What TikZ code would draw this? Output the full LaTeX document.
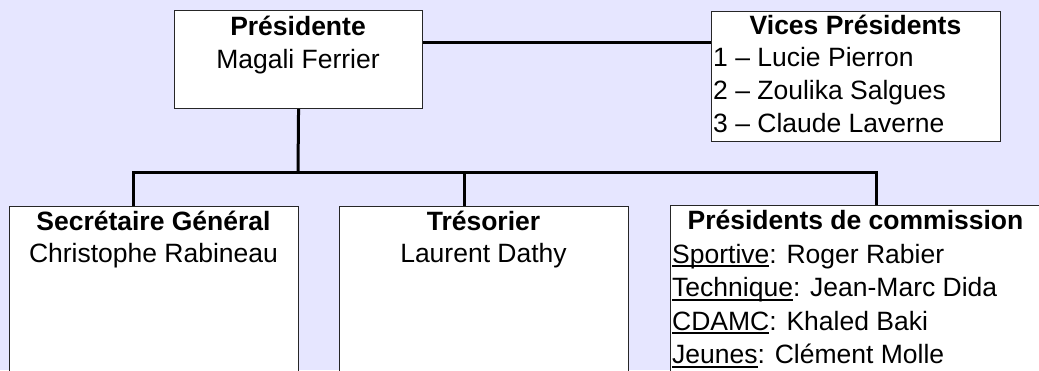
\documentclass[tikz,border=0pt]{standalone}
\usepackage{fontspec}
\setmainfont{Liberation Sans}
\definecolor{bgc}{HTML}{E6E6FF}
\newcommand\ulword[1]{\setbox0\hbox{#1}\rlap{\rule[-4pt]{\wd0}{1.8pt}}\box0}
\tikzset{
  orgbox/.style={draw=black!85, line width=1.1pt, fill=white, anchor=north west, inner sep=0pt, minimum width=#1},
  txt/.style={anchor=base, inner sep=0pt, font=\fontsize{26.5}{33}\selectfont},
  ttl/.style={txt, font=\fontsize{26.5}{33}\selectfont\bfseries},
  ltxt/.style={txt, anchor=base west},
  conn/.style={draw=black, line width=3pt}
}
\begin{document}
\begin{tikzpicture}[x=1pt,y=-1pt]
\useasboundingbox (0,0) rectangle (1039,370);
\clip (0,0) rectangle (1039,370);
\fill[bgc] (0,0) rectangle (1039,370);
% boxes
\node[orgbox=248pt, minimum height=98pt] (P) at (174,10) {};
\node[orgbox=289pt, minimum height=130pt] (V) at (711,11) {};
\node[orgbox=289pt, minimum height=220pt] (S) at (9,206) {};
\node[orgbox=289pt, minimum height=220pt] (T) at (339,206) {};
\node[orgbox=372pt, minimum height=220pt] (C) at (670,205) {};
% connectors
\coordinate (jP) at (298,172);
\coordinate (jS) at (133,172);
\coordinate (jT) at (464,172);
\coordinate (jC) at (876,172);
\draw[conn] ([yshift=-32pt]P.north east) -- ([yshift=-31pt]V.north west);
\draw[conn] (P.south) -- (jP);
\draw[conn] (jS |- S.north) -- (jS) -- (jC) -- (jC |- C.north);
\draw[conn] (jT) -- (jT |- T.north);
% texts
\node[ttl] (P1) at (298,35) {Présidente};
\node[txt] (P2) at (298,68) {Magali Ferrier};
\node[ttl] (V1) at (855.5,34) {Vices Présidents};
\node[ltxt] (V2) at (713,66) {1 – Lucie Pierron};
\node[ltxt] (V3) at (713,99) {2 – Zoulika Salgues};
\node[ltxt] (V4) at (713,132) {3 – Claude Laverne};
\node[ttl] (S1) at (153.5,230) {Secrétaire Général};
\node[txt] (S2) at (153.5,262) {Christophe Rabineau};
\node[ttl] (T1) at (483.5,230) {Trésorier};
\node[txt] (T2) at (483.5,262) {Laurent Dathy};
\node[ttl] (C1) at (855.5,229) {Présidents de commission};
\node[ltxt] (C2) at (672,263) {\ulword{Sportive}: Roger Rabier};
\node[ltxt] (C3) at (672,296.5) {\ulword{Technique}: Jean-Marc Dida};
\node[ltxt] (C4) at (672,330) {\ulword{CDAMC}: Khaled Baki};
\node[ltxt] (C5) at (672,363.5) {\ulword{Jeunes}: Clément Molle};
\end{tikzpicture}
\end{document}
